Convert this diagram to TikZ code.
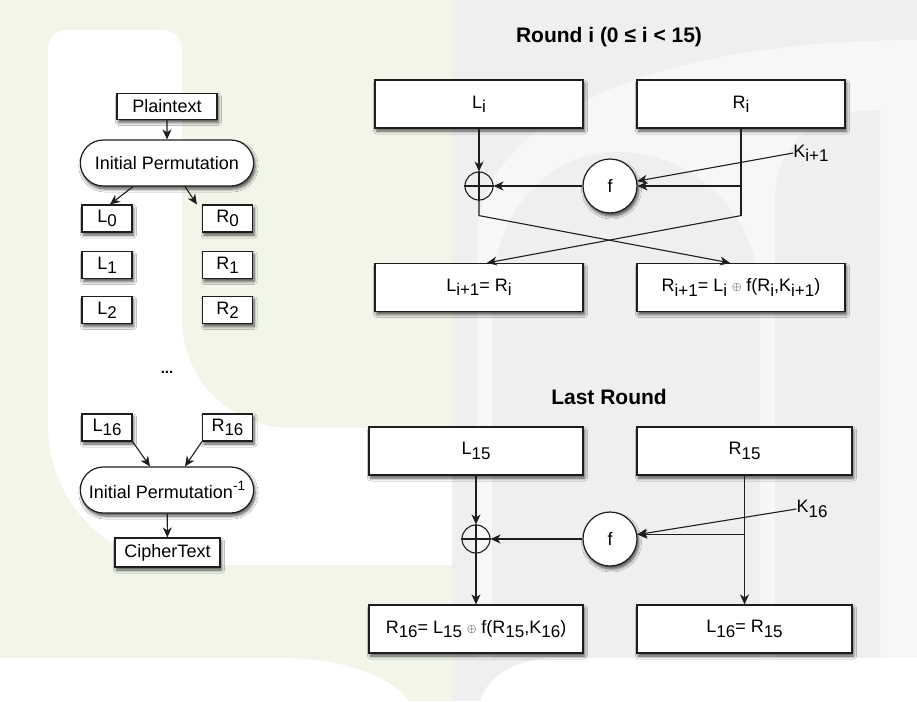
\documentclass[tikz,border=0pt]{standalone}
\usepackage{fontspec}
\setmainfont{Liberation Sans}
\usetikzlibrary{arrows.meta,shapes.misc,shadows.blur}
\definecolor{bggreen}{RGB}{241,246,233}
\definecolor{bggrey}{RGB}{239,239,239}
\definecolor{bglight}{RGB}{247,247,247}
\definecolor{linegrey}{RGB}{30,30,30}
\newcommand{\dsub}[1]{\raisebox{-0.45ex}{\fontsize{17}{17}\selectfont #1}}
\newcommand{\dsup}[1]{\raisebox{0.9ex}{\fontsize{13.5}{14}\selectfont #1}}
\newcommand{\xr}{\raisebox{0.1ex}{\fontsize{13}{13}\selectfont$\oplus$}}

\begin{document}
\begin{tikzpicture}[x=1pt, y=-1pt,
  txt/.style={font=\fontsize{18}{21}\selectfont},
  shd/.style={blur shadow={shadow xshift=1.5pt, shadow yshift=-3pt, shadow blur radius=3pt, shadow blur steps=6, shadow opacity=70}},
  sbox/.style={txt, shd, draw=linegrey, line width=1.2pt, fill=white, minimum width=50pt, minimum height=27pt, inner sep=1pt},
  perm/.style={txt, shd, rounded rectangle, draw=linegrey, line width=1.2pt, fill=white, minimum width=180pt, minimum height=46pt},
  rbox/.style={txt, shd, draw=linegrey, line width=1.2pt, fill=white, minimum width=208pt, minimum height=48pt},
  fnode/.style={txt, shd, circle, draw=linegrey, line width=1.2pt, fill=white, minimum size=54pt},
  xnode/.style={circle, draw=linegrey, line width=1.1pt, minimum size=28pt, inner sep=0pt},
  hdg/.style={font=\fontsize{21}{24}\selectfont\bfseries},
  klab/.style={txt, inner sep=0pt},
  arr/.style={-{Stealth[length=10pt, width=9pt, inset=3pt]}, line width=1.1pt, draw=linegrey},
  ln/.style={line width=1.1pt, draw=linegrey}]
\useasboundingbox (0,0) rectangle (917,701);
\fill[bggreen] (0,0) rectangle (452,701);
\fill[white] (48,50) .. controls (48,38) and (56,30) .. (68,30) -- (162,30)
  .. controls (174,30) and (182,38) .. (182,50) -- (182,318)
  .. controls (182,380) and (230,428) .. (292,428) -- (452,428) -- (452,565) -- (188,565)
  .. controls (110,565) and (48,503) .. (48,425) -- cycle;
\fill[white] (0,658) -- (280,658) .. controls (340,658) and (390,675) .. (409,701) -- (0,701) -- cycle;
\fill[bggrey] (452,0) rectangle (917,701);
\fill[bglight] (477,658) -- (477,240) .. controls (477,120) and (650,40) .. (917,40) -- (917,658) -- cycle;
\fill[bggrey] (492,658) -- (492,300) .. controls (492,200) and (560,152) .. (615,152)
  .. controls (700,152) and (760,220) .. (760,300) -- (760,658) -- cycle;
\fill[bggrey] (775,658) -- (775,200) .. controls (775,140) and (820,110) .. (880,110) -- (880,658) -- cycle;
\fill[white] (480,701) .. controls (490,672) and (520,658) .. (560,658) -- (917,658) -- (917,701) -- cycle;

\node[sbox, minimum width=100pt, minimum height=26pt] (plain) at (167,106.5) {Plaintext};
\node[perm] (ip) at (167,163) {Initial Permutation};
\foreach \k/\y in {0/218.5,1/265,2/310}{
  \node[sbox] (L\k) at (107,\y) {L\dsub{\k}};
  \node[sbox] (R\k) at (227.5,\y) {R\dsub{\k}};}
\node[hdg, font=\fontsize{15}{18}\selectfont\bfseries] (dots) at (167,372) {...};
\node[sbox] (L16) at (107,427.5) {L\dsub{16}};
\node[sbox] (R16) at (227.5,427.5) {R\dsub{16}};
\node[perm] (ipinv) at (167,490) {Initial Permutation\dsup{-1}};
\node[sbox, minimum width=105pt, minimum height=29pt] (ct) at (167.5,552.5) {CipherText};
\draw[arr] (plain) -- (ip);
\draw[arr] ([xshift=-34pt]ip.south) -- ([xshift=3pt]L0.north);
\draw[arr] ([xshift=18pt]ip.south) -- ([xshift=-5pt]R0.north west);
\draw[arr] (L16.south east) -- ([xshift=-17pt]ipinv.north);
\draw[arr] (R16.south west) -- ([xshift=18pt]ipinv.north);
\draw[arr] (ipinv) -- (ct);

\node[hdg] (ttl1) at (609,37) {Round i (0 ≤ i < 15)};
\node[rbox] (Li) at (479,104) {L\dsub{i}};
\node[rbox] (Ri) at (741,104) {R\dsub{i}};
\node[xnode] (x1) at (479,186) {};
\node[fnode] (f1) at (610,186) {f};
\node[klab] (k1) at (811,153) {K\dsub{i+1}};
\node[rbox] (Li1) at (479,287.5) {L\dsub{i+1}= R\dsub{i}};
\node[rbox] (Ri1) at (741,287.5) {R\dsub{i+1}= L\dsub{i} \xr\ f(R\dsub{i},K\dsub{i+1})};
\draw[ln] (x1.north) -- (x1.south) (x1.west) -- (x1.east);
\draw[arr] (Li) -- (x1);
\draw[arr] (f1) -- (x1);
\draw[arr] (Ri.south |- f1) -- (f1);
\draw[arr] (k1.west) -- (f1);
\coordinate (c1) at ([yshift=-87pt]Ri.south);
\coordinate (c0) at (x1.south |- c1);
\draw[ln] (Ri.south) -- (c1);
\draw[arr] (c1) -- ([xshift=8pt]Li1.north);
\draw[arr] (x1.south) -- (c0) -- ([xshift=-11pt]Ri1.north);

\node[hdg] (ttl2) at (609,397) {Last Round};
\node[rbox, minimum width=214pt] (L15) at (476,451) {L\dsub{15}};
\node[rbox, minimum width=215pt] (R15) at (744.5,451) {R\dsub{15}};
\node[xnode] (x2) at (476,539) {};
\node[fnode] (f2) at (610,539) {f};
\node[klab] (k2) at (812,509) {K\dsub{16}};
\node[rbox, minimum width=214pt] (R16b) at (476,629) {R\dsub{16}= L\dsub{15} \xr\ f(R\dsub{15},K\dsub{16})};
\node[rbox, minimum width=215pt] (L16b) at (744.5,629) {L\dsub{16}= R\dsub{15}};
\draw[ln] (x2.north) -- (x2.south) (x2.west) -- (x2.east);
\draw[arr] (L15) -- (x2);
\draw[arr] (x2) -- (R16b);
\draw[arr] (f2) -- (x2);
\draw[arr] (R15) -- (L16b);
\draw[arr] (R15.south |- f2.10) -- (f2.10);
\draw[arr] (k2.west) -- (f2);
\end{tikzpicture}
\end{document}
